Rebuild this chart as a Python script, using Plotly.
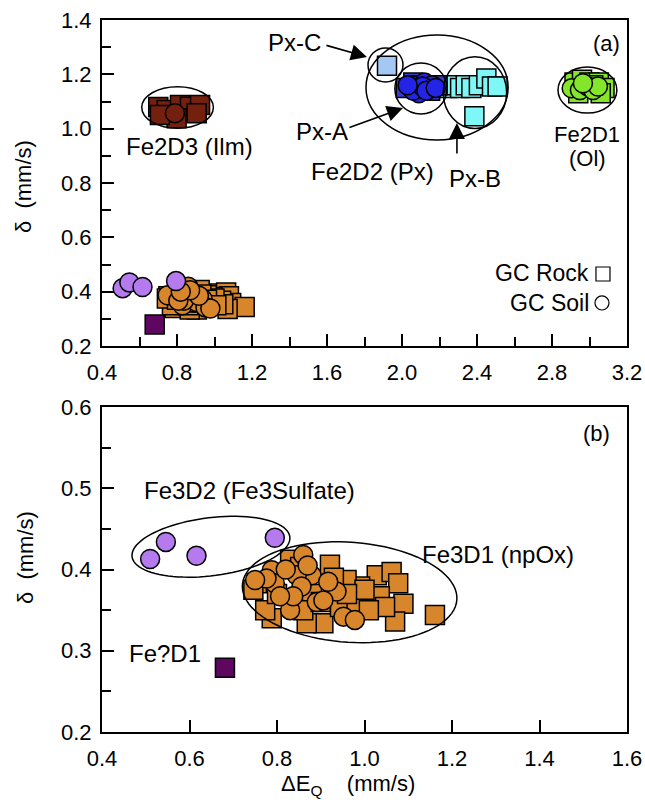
import numpy as np
import plotly.graph_objects as go

# ---------------- data (ΔEQ, δ in mm/s) ----------------
# Fe3D1 (npOx) – orange
npox_rock_dq = [0.754, 0.921, 1.028, 1.062, 1.077, 1.089, 1.161, 1.070, 0.788, 0.773, 0.990, 1.024, 0.906, 0.868,
                0.959, 0.830, 0.944, 1.035, 1.047, 0.982, 0.746, 0.853, 1.000, 0.930, 0.880, 0.960, 1.010, 0.800,
                0.860, 0.900]
npox_rock_d = [0.383, 0.406, 0.393, 0.397, 0.383, 0.358, 0.344, 0.336, 0.340, 0.350, 0.379, 0.362, 0.334, 0.334,
               0.387, 0.412, 0.354, 0.367, 0.354, 0.358, 0.375, 0.403, 0.375, 0.390, 0.370, 0.370, 0.350, 0.370,
               0.350, 0.360]
npox_soil_dq = [0.860, 0.788, 0.795, 0.776, 0.879, 0.845, 0.856, 0.891, 0.830, 0.936, 0.906, 0.952, 0.978, 0.837,
                0.750, 0.807, 0.917, 0.870, 0.820]
npox_soil_d = [0.418, 0.399, 0.383, 0.389, 0.393, 0.393, 0.379, 0.360, 0.350, 0.373, 0.362, 0.342, 0.338, 0.367,
               0.387, 0.367, 0.385, 0.405, 0.400]
# Fe3D2 (Fe3Sulfate) – purple soils
sulf_soil_dq = [0.510, 0.546, 0.616, 0.795]
sulf_soil_d = [0.413, 0.434, 0.417, 0.439]
# Fe?D1 – dark purple rock
feq_rock_dq = [0.681]
feq_rock_d = [0.279]
# Fe2D3 (Ilm)
ilm_rock_dq = [0.700, 0.745, 0.816, 0.869, 0.923, 0.905, 0.798, 0.709]
ilm_rock_d = [1.080, 1.069, 1.087, 1.081, 1.087, 1.057, 1.038, 1.050]
ilm_soil_dq = [0.789]
ilm_soil_d = [1.057]
# Fe2D2 (Px): Px-C, Px-A, Px-B
pxc_rock_dq = [1.920]
pxc_rock_d = [1.232]
pxa_rock_dq = [2.02, 2.06, 2.15, 2.19, 2.10]
pxa_rock_d = [1.15, 1.17, 1.14, 1.16, 1.16]
pxa_soil_dq = [2.05, 2.08, 2.10, 2.12, 2.14, 2.09, 2.16, 2.06, 2.11, 2.13, 2.03, 2.18]
pxa_soil_d = [1.15, 1.16, 1.14, 1.17, 1.15, 1.13, 1.16, 1.14, 1.155, 1.14, 1.16, 1.15]
pxb_rock_dq = [2.20, 2.24, 2.28, 2.31, 2.34, 2.37, 2.41, 2.45, 2.48, 2.51, 2.386]
pxb_rock_d = [1.16, 1.15, 1.16, 1.15, 1.16, 1.15, 1.16, 1.185, 1.155, 1.155, 1.046]
pxb_soil_dq = [2.19]
pxb_soil_d = [1.155]
# Fe2D1 (Ol)
ol_rock_dq = [2.92, 2.96, 3.00, 3.05, 3.08, 3.06, 2.94, 3.02]
ol_rock_d = [1.17, 1.18, 1.17, 1.17, 1.15, 1.13, 1.13, 1.16]
ol_soil_dq = [2.905, 2.949, 2.992, 3.019, 3.045, 2.965]
ol_soil_d = [1.149, 1.142, 1.155, 1.142, 1.155, 1.167]

top_xticks = [0.4, 0.8, 1.2, 1.6, 2.0, 2.4, 2.8, 3.2]
top_yticks = [0.2, 0.4, 0.6, 0.8, 1.0, 1.2, 1.4]
bot_xticks = [0.4, 0.6, 0.8, 1.0, 1.2, 1.4, 1.6]
bot_yticks = [0.2, 0.3, 0.4, 0.5, 0.6]

# ---------------- styling ----------------
FONT = "Liberation Sans, Arial, Helvetica, sans-serif"
FS = 24
FT = 22
ORANGE = "#D8862C"
PURPLE = "#B57BEE"
DPURPLE = "#5E0660"
BROWN = "#74200F"
BLUE = "#2424E6"
BLUESQ = "#3A3AC8"
CYAN = "#7FF7F7"
LBLUE = "#A4C8F4"
GREEN = "#84E62B"
MS = 19

fig = go.Figure()


def add(xs, ys, color, symbol, xa="x", ya="y"):
    fig.add_trace(go.Scatter(
        x=xs, y=ys, mode="markers", xaxis=xa, yaxis=ya, showlegend=False, hoverinfo="skip",
        marker=dict(symbol=symbol, size=MS, color=color, line=dict(color="black", width=1.5))))


for xa, ya in [("x", "y"), ("x2", "y2")]:
    add(npox_rock_dq, npox_rock_d, ORANGE, "square", xa, ya)
    add(feq_rock_dq, feq_rock_d, DPURPLE, "square", xa, ya)
    add(npox_soil_dq, npox_soil_d, ORANGE, "circle", xa, ya)
    add(sulf_soil_dq, sulf_soil_d, PURPLE, "circle", xa, ya)

add(ilm_rock_dq, ilm_rock_d, BROWN, "square")
add(ilm_soil_dq, ilm_soil_d, BROWN, "circle")
add(pxc_rock_dq, pxc_rock_d, LBLUE, "square")
add(pxb_rock_dq, pxb_rock_d, CYAN, "square")
add(pxb_soil_dq, pxb_soil_d, CYAN, "circle")
add(pxa_rock_dq, pxa_rock_d, BLUESQ, "square")
add(pxa_soil_dq, pxa_soil_d, BLUE, "circle")
add(ol_rock_dq, ol_rock_d, GREEN, "square")
add(ol_soil_dq, ol_soil_d, GREEN, "circle")

# ---------------- shapes (group outlines) ----------------
shapes = []


def ell(cx, cy, rx, ry, xr="x", yr="y"):
    shapes.append(dict(type="circle", xref=xr, yref=yr, x0=cx - rx, x1=cx + rx, y0=cy - ry, y1=cy + ry,
                       line=dict(color="black", width=1.5), fillcolor="rgba(0,0,0,0)", layer="above"))


ell(0.803, 1.078, 0.191, 0.0766)   # Fe2D3
ell(2.187, 1.1515, 0.379, 0.193)   # Fe2D2 big
ell(1.912, 1.2344, 0.0933, 0.0626)  # Px-C
ell(2.101, 1.148, 0.139, 0.0939)   # Px-A
ell(2.389, 1.133, 0.169, 0.132)    # Px-B
ell(2.989, 1.142, 0.157, 0.0847)   # Fe2D1


def rot_ell(cx, cy, a_px, b_px, ang_deg, sx=437.5, sy=812.5):
    t = np.linspace(0, 2 * np.pi, 90)
    th = np.radians(ang_deg)
    dx = a_px * np.cos(t) * np.cos(th) - b_px * np.sin(t) * np.sin(th)
    dy = a_px * np.cos(t) * np.sin(th) + b_px * np.sin(t) * np.cos(th)
    xs = cx + dx / sx
    ys = cy + dy / sy
    path = "M " + " L ".join(f"{x:.5f},{y:.5f}" for x, y in zip(xs, ys)) + " Z"
    shapes.append(dict(type="path", xref="x2", yref="y2", path=path,
                       line=dict(color="black", width=1.5), layer="above"))


rot_ell(0.649, 0.428, 79.5, 29, 7.2)    # Fe3D2
rot_ell(0.966, 0.372, 107.5, 50, -4)    # Fe3D1

# legend keys (GC Rock / GC Soil)
shapes.append(dict(type="rect", xref="paper", yref="paper", x0=0.9409, x1=0.9676, y0=0.6334, y1=0.6531,
                   line=dict(color="black", width=1.2)))
shapes.append(dict(type="circle", xref="paper", yref="paper", x0=0.9390, x1=0.9657, y0=0.5927, y1=0.6124,
                   line=dict(color="black", width=1.2)))

# ---------------- annotations ----------------
ann = []


def txt(x, y, s, xr="x", yr="y", xanchor="center", size=FS):
    ann.append(dict(x=x, y=y, xref=xr, yref=yr, text=s, showarrow=False, xanchor=xanchor, yanchor="middle",
                    font=dict(family=FONT, size=size, color="black")))


def arrow(x, y, ax, ay):
    ann.append(dict(x=x, y=y, xref="x", yref="y", ax=ax, ay=ay, text="", showarrow=True,
                    arrowhead=2, arrowsize=2.0, arrowwidth=1.6, arrowcolor="black"))


txt(3.093, 1.315, "(a)", size=22)
txt(1.424, 1.319, "Px-C")
txt(1.573, 0.991, "Px-A")
txt(1.845, 0.844, "Fe2D2 (Px)")
txt(2.389, 0.815, "Px-B")
txt(0.864, 0.934, "Fe2D3 (Ilm)")
txt(2.989, 0.978, "Fe2D1", size=22)
txt(2.989, 0.889, "(Ol)", size=22)
txt(3.008, 0.469, "GC Rock", xanchor="right", size=23)
txt(3.008, 0.358, "GC Soil", xanchor="right", size=23)
arrow(1.813, 1.264, -42, -12)
arrow(2.005, 1.076, -55, 20)
arrow(2.293, 1.021, 0, 32)

txt(1.531, 0.568, "(b)", "x2", "y2", size=22)
txt(0.738, 0.497, "Fe3D2 (Fe3Sulfate)", "x2", "y2")
txt(1.304, 0.419, "Fe3D1 (npOx)", "x2", "y2")
txt(0.544, 0.297, "Fe?D1", "x2", "y2")

# axis titles
ann.append(dict(x=0, y=1 - 167 / 712, xref="paper", yref="paper", xshift=-79, xanchor="center",
                yanchor="middle", text="δ  (mm/s)", textangle=-90,
                showarrow=False, font=dict(family=FONT, size=FT, color="black")))
ann.append(dict(x=0, y=1 - 538 / 712, xref="paper", yref="paper", xshift=-77, xanchor="center",
                yanchor="middle", text="δ  (mm/s)", textangle=-90,
                showarrow=False, font=dict(family=FONT, size=FT, color="black")))
ann.append(dict(x=(348 - 102) / 525, y=-53 / 712, xref="paper", yref="paper", xanchor="center",
                yanchor="middle", text="ΔE<sub>Q</sub>    (mm/s)", showarrow=False,
                font=dict(family=FONT, size=FT, color="black")))

axis_common = dict(showline=True, linecolor="black", linewidth=2, mirror=True, ticks="inside",
                   tickcolor="black", tickwidth=1.6, ticklen=12, showgrid=False, zeroline=False,
                   automargin=False, ticklabeloverflow="allow",
                   tickfont=dict(family=FONT, size=FT, color="black"), tickformat=".1f")

fig.update_layout(
    template="none",
    width=645, height=802, margin=dict(l=102, r=18, t=20, b=70, autoexpand=False),
    paper_bgcolor="white", plot_bgcolor="white", showlegend=False,
    shapes=shapes, annotations=ann,
    xaxis=dict(axis_common, domain=[0, 1], anchor="y", range=[0.4, 3.2], tickvals=top_xticks,
               minor=dict(dtick=0.2, tick0=0.4, ticks="inside", ticklen=9, tickcolor="black", tickwidth=1.6),
               ticklabelstandoff=6),
    yaxis=dict(axis_common, domain=[1 - 326 / 712, 1], anchor="x", range=[0.2, 1.4], tickvals=top_yticks,
               minor=dict(dtick=0.1, tick0=0.2, ticks="inside", ticklen=9, tickcolor="black", tickwidth=1.6),
               ticklabelstandoff=4),
    xaxis2=dict(axis_common, domain=[0, 1], anchor="y2", range=[0.4, 1.6], tickvals=bot_xticks,
                ticklabelstandoff=6),
    yaxis2=dict(axis_common, domain=[0, 1 - 387 / 712], anchor="x2", range=[0.2, 0.6], tickvals=bot_yticks,
                minor=dict(dtick=0.05, tick0=0.2, ticks="inside", ticklen=9, tickcolor="black", tickwidth=1.6),
                ticklabelstandoff=4),
)

fig.write_html("out.html", config={"displayModeBar": False},
               post_script="document.body.style.margin='0';document.body.style.overflow='hidden';")
